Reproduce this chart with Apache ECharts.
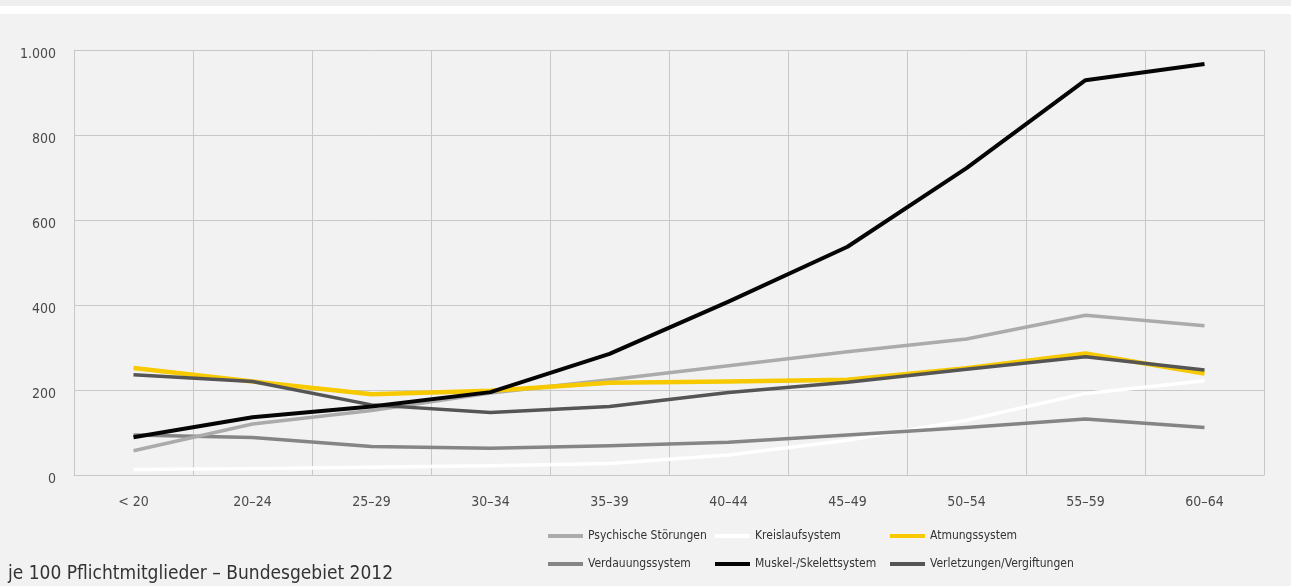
<!DOCTYPE html>
<html>
<head>
<meta charset="utf-8">
<script src="https://cdn.jsdelivr.net/npm/echarts@6/dist/echarts.min.js"></script>
<style>
  html, body { margin: 0; padding: 0; background: #f2f2f2; }
  #chart { width: 1291px; height: 586px; }
</style>
</head>
<body>
<div id="chart"></div>
<script>
// Altersgruppen
const ageGroups = ['< 20', '20–24', '25–29', '30–34', '35–39', '40–44', '45–49', '50–54', '55–59', '60–64'];

// Arbeitsunfähigkeitstage je 100 Pflichtmitglieder nach Diagnosegruppe
const psychischeStoerungen = [57, 120, 152, 193, 224, 257, 290, 320, 376, 351];
const kreislaufsystem      = [13, 15, 18, 22, 27, 47, 82, 129, 192, 222];
const atmungssystem        = [252, 220, 190, 198, 217, 220, 224, 251, 286, 239];
const verdauungssystem     = [94, 88, 67, 63, 69, 77, 94, 112, 132, 112];
const muskelSkelett        = [89, 136, 161, 195, 285, 408, 537, 722, 929, 967];
const verletzungen         = [236, 220, 165, 147, 161, 194, 218, 249, 278, 247];

const yTicks = [0, 200, 400, 600, 800, 1000];

const FONT = "'DejaVu Sans Condensed', 'Liberation Sans Narrow', 'Liberation Sans', sans-serif";

const chart = echarts.init(document.getElementById('chart'), null, { renderer: 'canvas' });

function line(name, data, color, width, z) {
  return {
    name: name,
    type: 'line',
    data: data,
    symbol: 'none',
    z: z,
    lineStyle: { color: color, width: width, join: 'round' },
    itemStyle: { color: color },
    emphasis: { disabled: true }
  };
}

const legendBase = {
  orient: 'vertical',
  top: 523,
  icon: 'rect',
  itemWidth: 35,
  itemHeight: 4,
  itemGap: 12,
  selectedMode: false,
  textStyle: { fontFamily: FONT, fontSize: 12, lineHeight: 16, color: '#333' }
};

chart.setOption({
  backgroundColor: '#f2f2f2',
  animation: false,
  graphic: [
    { type: 'rect', left: 0, top: 0, shape: { width: 1291, height: 6 }, style: { fill: '#efefef' }, silent: true },
    { type: 'rect', left: 0, top: 6, shape: { width: 1291, height: 8 }, style: { fill: '#ffffff' }, silent: true },
    {
      type: 'text', left: 8, top: 565, silent: true,
      style: { text: 'je 100 Pflichtmitglieder – Bundesgebiet 2012', font: '19px ' + FONT, fill: '#333' }
    }
  ],
  grid: { left: 74, right: 27, top: 50, bottom: 111, containLabel: false },
  xAxis: {
    type: 'category',
    data: ageGroups,
    boundaryGap: true,
    axisLine: { show: true, lineStyle: { color: '#c8c8c8', width: 1 } },
    axisTick: { show: false },
    splitLine: { show: true, lineStyle: { color: '#c8c8c8', width: 1 } },
    axisLabel: { margin: 20, fontFamily: FONT, fontSize: 14, color: '#4a4a4a' }
  },
  yAxis: {
    type: 'value',
    min: yTicks[0],
    max: yTicks[yTicks.length - 1],
    interval: 200,
    axisLine: { show: true, lineStyle: { color: '#c8c8c8', width: 1 } },
    axisTick: { show: false },
    splitLine: { show: true, lineStyle: { color: '#c8c8c8', width: 1 } },
    axisLabel: {
      margin: 18, fontFamily: FONT, fontSize: 14, color: '#4a4a4a',
      verticalAlign: 'top', lineHeight: 8,
      formatter: v => v >= 1000 ? Math.floor(v / 1000) + '.' + String(v % 1000).padStart(3, '0') : String(v)
    }
  },
  legend: [
    Object.assign({}, legendBase, { left: 543, data: ['Psychische Störungen', 'Verdauungssystem'] }),
    Object.assign({}, legendBase, { left: 710, data: ['Kreislaufsystem', 'Muskel-/Skelettsystem'] }),
    Object.assign({}, legendBase, { left: 885, data: ['Atmungssystem', 'Verletzungen/Vergiftungen'] })
  ],
  series: [
    line('Kreislaufsystem', kreislaufsystem, '#ffffff', 3.5, 2),
    line('Verdauungssystem', verdauungssystem, '#858585', 3.5, 3),
    line('Psychische Störungen', psychischeStoerungen, '#ababab', 3.5, 4),
    line('Atmungssystem', atmungssystem, '#f7c900', 4.5, 5),
    line('Verletzungen/Vergiftungen', verletzungen, '#555555', 3.5, 6),
    line('Muskel-/Skelettsystem', muskelSkelett, '#050505', 4, 7)
  ]
});
</script>
</body>
</html>
